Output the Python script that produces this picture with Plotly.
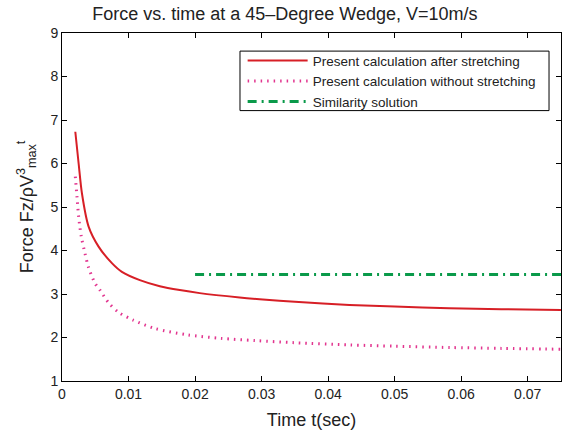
import plotly.graph_objects as go

# values
t_stretch = [0.0020, 0.0025, 0.0030, 0.0040, 0.0055, 0.0075, 0.0090, 0.0117,
             0.0147, 0.0177, 0.0207, 0.0267, 0.0297, 0.0350, 0.0432, 0.0500,
             0.0582, 0.0660, 0.075]
f_stretch = [6.73, 6.00, 5.31, 4.55, 4.09, 3.71, 3.51, 3.32,
             3.18, 3.09, 3.02, 2.92, 2.88, 2.82, 2.75, 2.71,
             2.67, 2.65, 2.63]

t_nostretch = [0.0020, 0.00225, 0.0025, 0.0029, 0.00345, 0.00395, 0.00495, 0.0057,
               0.0070, 0.0085, 0.0107, 0.0139, 0.0189, 0.0239, 0.0290, 0.0350,
               0.0432, 0.0500, 0.0582, 0.0660, 0.075]
f_nostretch = [5.70, 5.24, 4.78, 4.32, 3.94, 3.63, 3.25, 3.09,
               2.80, 2.58, 2.40, 2.21, 2.06, 1.98, 1.93, 1.88,
               1.83, 1.80, 1.77, 1.75, 1.73]

t_similar = [0.02, 0.075]
f_similar = [3.45, 3.45]

x_ticks = [0, 0.01, 0.02, 0.03, 0.04, 0.05, 0.06, 0.07]
x_labels = ["0", "0.01", "0.02", "0.03", "0.04", "0.05", "0.06", "0.07"]

W, H = 562, 435

fig = go.Figure()
fig.add_trace(go.Scatter(x=t_stretch, y=f_stretch, mode="lines",
                         line_shape="spline",
                         name="Present calculation after stretching",
                         line=dict(color="#d71f26", width=2, smoothing=0.8)))
fig.add_trace(go.Scatter(x=t_nostretch, y=f_nostretch, mode="lines",
                         line_shape="spline",
                         name="Present calculation without stretching",
                         line=dict(color="#e2358f", width=3, dash="1.5px,5px", smoothing=0.8)))
fig.add_trace(go.Scatter(x=t_similar, y=f_similar, mode="lines",
                         name="Similarity solution",
                         line=dict(color="#0a9a4a", width=3, dash="9px,5px,2px,5px")))

axis_style = dict(showline=True, linecolor="black", linewidth=1, mirror="ticks",
                  ticks="inside", ticklen=5, tickcolor="black", showgrid=False,
                  zeroline=False, automargin=False,
                  tickfont=dict(size=14, color="#222"))

# legend frame drawn as a shape so the padding can match
fig.add_shape(type="rect", xref="paper", yref="paper",
              x0=0.3567, x1=0.976, y0=0.777, y1=0.948,
              line=dict(color="black", width=1), fillcolor="white", layer="below")

fig.update_layout(
    width=W, height=H,
    margin=dict(l=62, r=1, t=33, b=54),
    paper_bgcolor="white", plot_bgcolor="white",
    font=dict(family="Liberation Sans, Arial, sans-serif", color="#222"),
    title=dict(text="Force vs. time at a 45\u2013Degree Wedge, V=10m/s",
               x=0.507, xanchor="center", y=0.968, yanchor="middle",
               font=dict(size=18, color="#222"), automargin=False),
    showlegend=True,
    legend=dict(x=0.362, y=0.965, xanchor="left", yanchor="top",
                bgcolor="rgba(0,0,0,0)", borderwidth=0,
                font=dict(size=13.5, color="#222"), tracegroupgap=0,
                itemwidth=60),
)
fig.update_xaxes(range=[0, 0.075], tickvals=x_ticks, ticktext=x_labels,
                 title=dict(text="Time t(sec)", font=dict(size=18, color="#222"), standoff=12),
                 **axis_style)
fig.update_yaxes(range=[1, 9], dtick=1,
                 title=dict(text="Force Fz/\u03c1V<sup>3</sup><sub>max</sub><sup>t</sup>",
                            font=dict(size=18, color="#222"), standoff=12),
                 **axis_style)

# drop the page's default body margin and keep the figure at its full size
post = ("document.body.style.margin='0';"
        "var gd=document.getElementById('{plot_id}');"
        "Plotly.relayout(gd,{width:%d,height:%d});" % (W, H))

fig.write_html("out.html", post_script=post, config={"displayModeBar": False})
